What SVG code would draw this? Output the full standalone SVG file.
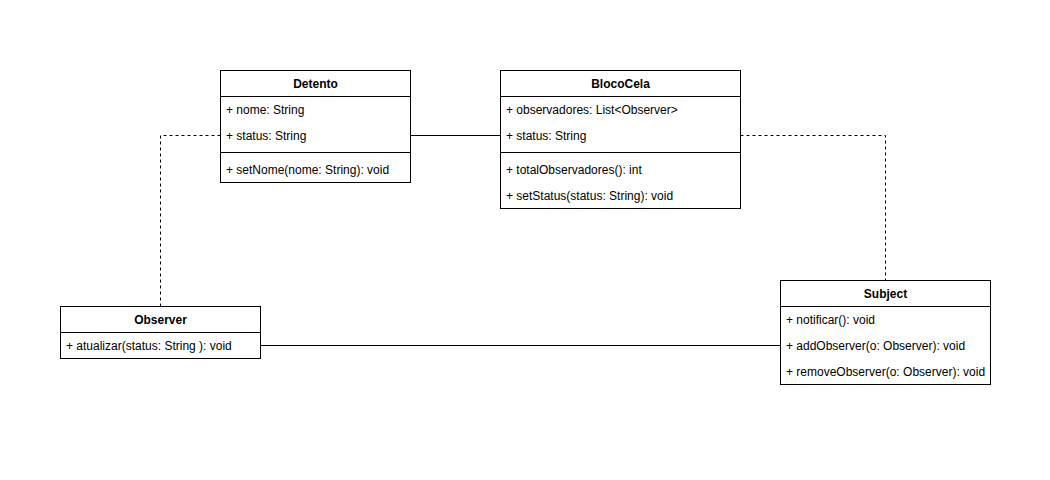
<svg xmlns="http://www.w3.org/2000/svg" width="1050" height="480" viewBox="0 0 1050 480">
<style>
.box{fill:#fff;stroke:#000;stroke-width:1}
.sep{stroke:#000;stroke-width:1}
text{font-family:"Liberation Sans",Arial,Helvetica,sans-serif;font-size:12px;fill:#000}
.t{font-weight:bold;font-size:12px;text-anchor:middle}
.edge{fill:none;stroke:#000;stroke-width:1}
.dash{stroke-dasharray:3 3}
</style>
<rect width="1050" height="480" fill="#fff"/>
<g id="connectors">
<path class="edge" d="M410.5,135.5 H500.5"/>
<path class="edge dash" d="M220.5,135.5 H160.5 V306"/>
<path class="edge dash" d="M740.5,135.5 H885.5 V280"/>
<path class="edge" d="M260.5,345.5 H780.5"/>
</g>
<g id="Detento">
<rect class="box" x="220.5" y="70.5" width="190" height="112"/>
<line class="sep" x1="220.5" y1="96.5" x2="410.5" y2="96.5"/>
<line class="sep" x1="220.5" y1="152.5" x2="410.5" y2="152.5"/>
<text class="t" x="315.5" y="88">Detento</text>
<text x="226" y="114">+ nome: String</text>
<text x="226" y="140">+ status: String</text>
<text x="226" y="174">+ setNome(nome: String): void</text>
</g>
<g id="BlocoCela">
<rect class="box" x="500.5" y="70.5" width="240" height="138"/>
<line class="sep" x1="500.5" y1="96.5" x2="740.5" y2="96.5"/>
<line class="sep" x1="500.5" y1="152.5" x2="740.5" y2="152.5"/>
<text class="t" x="620.5" y="88">BlocoCela</text>
<text x="506" y="114">+ observadores: List&lt;Observer&gt;</text>
<text x="506" y="140">+ status: String</text>
<text x="506" y="174">+ totalObservadores(): int</text>
<text x="506" y="200">+ setStatus(status: String): void</text>
</g>
<g id="Observer">
<rect class="box" x="60.5" y="306.5" width="200" height="52"/>
<line class="sep" x1="60.5" y1="332.5" x2="260.5" y2="332.5"/>
<text class="t" x="160.5" y="324">Observer</text>
<text x="66" y="350">+ atualizar(status: String ): void</text>
</g>
<g id="Subject">
<rect class="box" x="780.5" y="280.5" width="210" height="104"/>
<line class="sep" x1="780.5" y1="306.5" x2="990.5" y2="306.5"/>
<text class="t" x="885.5" y="298">Subject</text>
<text x="786" y="324">+ notificar(): void</text>
<text x="786" y="350">+ addObserver(o: Observer): void</text>
<text x="786" y="376">+ removeObserver(o: Observer): void</text>
</g>
</svg>
